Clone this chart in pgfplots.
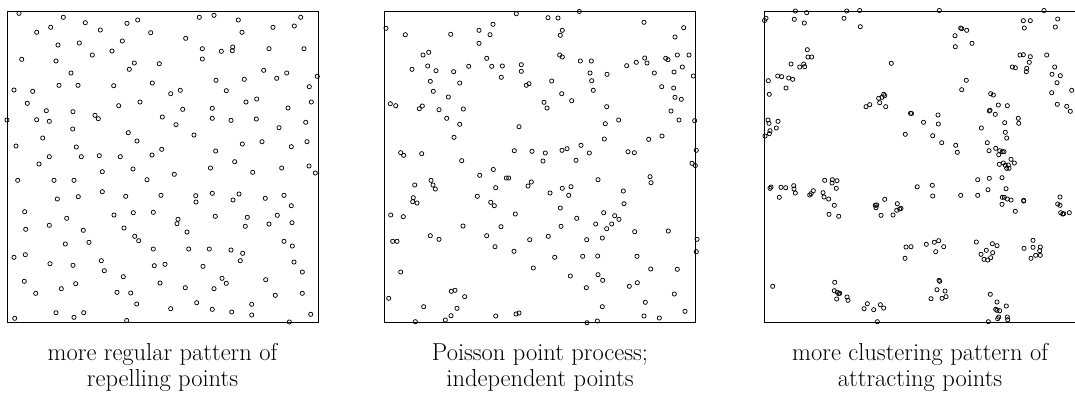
\documentclass[border=0pt]{standalone}
\usepackage{pgfplots}
\pgfplotsset{compat=1.18}
\tikzset{captxt/.style={align=center, font=\fontsize{24.5}{26}\selectfont, anchor=center}}
\pgfplotsset{
  panel/.style={
    anchor=south west, x=1pt, y=1pt, y dir=reverse,
    xtick=\empty, ytick=\empty, clip=false,
    axis line style={line width=0.8pt},
    ymin=11.7, ymax=322,
  },
  pts/.style={only marks, mark=o, mark size=2.1pt, mark options={line width=0.75pt, black}},
}
\begin{document}
\begin{tikzpicture}
\path[use as bounding box] (0pt,0pt) rectangle (1075pt,-402pt);
% Panel 1
\begin{axis}[panel, at={(7pt,-322pt)}, xmin=7, xmax=318]
\addplot[pts] table {
19 13.3
63.3 17.3
85.3 22.7
127 23.3
137.7 20
50.7 27.3
36.7 32.3
100.3 30
150.7 32.7
58 45
79.3 43
122.3 41
112 51
92.3 55
21.7 59.3
56 61
134.3 63
159.3 63.7
129.3 69.3
71 73
59 85.3
78 85.3
113.7 85.7
152.3 83
14 90
32.7 91.3
27.3 103.3
118.7 105.7
140 102
46.3 110.7
73 111.7
95 115.3
98.3 118.7
162.3 117
36.7 119.7
49.3 121.3
72.7 129
42.7 138
128.3 132.7
137 141
16 146
76.3 147
49.3 156.7
81.3 156.7
99.3 155.7
120.3 156.7
152 155
161.7 149.3
39 164
133 169
7 120
199.3 17.3
214 15.3
238.3 20
300.7 17.3
294.3 26
273 27.3
242 32.3
185.7 38.3
202.3 48.7
221.3 51.3
232.7 47
232.3 50.7
269 48.7
304 48.7
202.3 59
263.7 70.3
276.7 78.3
286.7 73
317.3 76.3
216 80.3
244.3 79.3
309.3 86.7
170.7 93.7
180.3 90.3
226.3 90.7
246 102
256.7 99
311.3 102
182.7 109.3
212.3 108.3
288 108
212.3 118.3
231 120.3
256.3 119
176 124.7
279 127.7
305.7 122.3
194 135
242.3 144
262 141.7
291.3 146.7
307 141.7
215.7 151
234.7 161.7
210.5 168
281.7 168
309 166
102.3 171.7
17.7 180.3
54 180.3
74 180.3
147 179.7
102.3 191.7
57.3 199
78.3 196.7
125.7 196.3
161 195.3
24.7 211.7
66.7 218.3
114 215
133.3 212.7
153.3 212.3
25.7 229.3
49.3 225.3
83.3 230.3
124 228
134.7 236.3
138.7 240.7
65.3 244
89 242.3
14 257.3
25.3 254.7
153.3 249
50 263.7
73 265.3
101.3 260.7
104.3 270.7
154.3 265.7
165 264.3
24.3 281.3
35.7 293.3
61.3 288.7
75.7 283.7
123.3 276.7
160 283
117 292.3
130.7 293
136.7 304
56 312.7
74 317.3
83.7 312.7
14.7 318.3
126.7 320.5
174.3 174.3
252.7 172.3
315.3 173
195.7 195.7
196 202
212.3 193.3
239 194
233 200
265.3 198.3
284 195.3
291.3 205.7
178 219.3
177 223.7
215.3 216.3
247.3 217.3
245.3 226.3
269 224
277.3 215.3
292 222.7
187 232
188.7 249
209.3 249
231 250
242.7 253.3
240.3 260.7
284 241.3
292.3 246
294 262
203 266.3
302.3 272
222 278.3
226.3 283.3
265.7 279.7
185.3 287.7
214 288.7
275.3 295.3
302.3 293.3
196.7 302.7
170.7 308.7
212.3 309.3
251.7 304.3
231.7 312
251.7 315
289.3 322
310.7 314.3
};
\node[captxt] at (axis description cs:0.5,-0.147) {more regular pattern of\\repelling points};
\end{axis}
% Panel 2
\begin{axis}[panel, at={(384.7pt,-322pt)}, xmin=384.7, xmax=695.3]
\addplot[pts] table {
516.3 13.7
386 28.3
405.3 34.7
450.7 34.3
479 30.3
493 24.3
490 34.7
479 43.3
423 55
428.7 52.3
486.7 58.3
427.7 66
412 69.3
436 70.7
453.7 71.7
468.7 66.3
491.7 66.3
502.3 66
521.3 64.7
521.3 71.3
501.3 77.3
430.3 81.3
459.7 83
526.3 85.3
529 83.7
433.3 91.3
448.3 97
390.3 103.7
395.7 105.7
419.3 108.7
422.3 106
439 109.7
463.3 109
446.7 118.3
459.7 124.3
519 126.7
454 137.3
400.7 152.7
403.7 155.3
421.7 153.7
514.3 150.7
532 151.3
461.7 160.7
493.3 169.5
579.3 11.5
548 17.7
558 18
562.3 30.3
560.3 35.3
644 22.3
683.7 27.7
675 37
559.7 55
562.3 57
580.3 61
591.3 61
626.7 65.7
636.3 62.3
644.7 58
647 63
665.7 58.3
668 59.7
677.3 55
689 55
682.3 67
590 73
607 74.3
654.3 73
674 72
693.3 76
551.7 81
591.7 80.7
593.3 90.3
561.7 93.7
661.7 86.7
673.7 88
675 97.3
681.3 99.3
544 102.3
547 108
571.7 100.7
606.7 106.7
671 111
618.7 120
605.3 123.7
679 120
694.7 120.7
604.3 139
648.7 139.3
662 136
581 145.3
545.3 153
562 150.3
567 148.7
589.3 153
628 151.7
634.3 152.7
696.3 150.3
543 161
576 160.3
692 163.3
695.3 165.5
479.7 175.3
506.3 178
508.7 178
431 180.3
433 185
435.3 189
414.7 185
495.7 187.7
528 186
531.3 182
413.3 197.7
412.7 201.7
417 203
477.3 196.3
490.7 202.3
494.3 205.7
390.7 215
403.3 216.7
515.3 214
463 226
501 226.7
430.3 235.7
439 239.3
486.7 235.7
392.7 241.3
397 241.3
529.7 239.7
495 246.7
514 251.3
533.3 268
400.7 272
451.3 291.3
455 290.3
464.7 296.7
388.7 298.3
423.7 306.7
457 308.3
451 315.7
445.3 320
415.3 321.7
495.7 316
516 314
519 313
598 179.7
650 176.7
651 182.7
550 193
562.3 188.3
571 186.7
568.7 195.3
623.3 191
624 203.7
560.3 208
576.7 218.3
603.7 212.7
614.7 215.7
619 219.3
595.7 224
611.7 224
606.7 228.7
561 226.3
634.7 231.7
668.3 231
548.3 236.3
586.7 239.7
602.3 238
697 239.3
696.3 251.7
554.7 257.3
582.7 256.3
597.7 256
637 256.3
650.7 269
677.3 269.3
570.3 276
598 274.7
602.7 280.3
586.3 287.7
629.3 286.3
637.3 282.7
674.3 294
645.3 302.3
602.3 306.7
685 311.3
644 316
659.3 318
587 322.7
597.3 321
};
\node[captxt] at (axis description cs:0.5,-0.147) {Poisson point process;\\independent points};
\end{axis}
% Panel 3
\begin{axis}[panel, at={(764.7pt,-322pt)}, xmin=764.7, xmax=1075.5]
\addplot[pts] table {
795.3 11
806.7 12.7
846.7 11
859.7 10.5
766 18.3
764.5 20.5
794.3 19.3
804.3 23
844 18.3
860.3 26.7
807.3 49.7
808 57
811.7 57
791 64
803.7 64
799.7 67
804.7 66.7
891.3 63.3
777.7 76
781.7 76.7
788.7 78
792.7 79.3
768.3 80.7
786 88
769.3 94.3
883.7 94.3
884.7 95.7
882 97.3
878.7 98.3
879.7 102.7
885.7 106.7
866 106.7
869.7 104.7
910.5 113.3
911.5 113.5
923.5 122.3
768 120
769 123.3
778 121.3
776.3 128
770 130.7
769.3 133.7
905.3 134.3
765 136
939.3 10.5
1044 10.5
1023.3 20.7
1030.3 20.7
1057.7 19
1024.3 28
1055.3 27
960.7 28
961.7 28.7
966.7 30.3
955 35.7
955.3 46.7
972 43.3
1020 55
1023.3 54.7
1030.3 56.7
1046.7 55
1029.3 62.3
1012.3 67
1015.3 67.7
1026.7 68.3
1026.3 71.7
1054.7 67
1052 74.3
1060.3 75.7
1057 82.7
1071.7 90.3
1051.7 92.7
966.3 80.3
961.7 89.7
990.7 93.7
993.3 95
998.3 105
1007.3 105.7
1057.3 104.3
1066.7 106.3
1070.3 111.3
989.3 111
990 110.3
995.3 114.3
938 115
1018.3 118.3
1018.7 123.3
938.3 124
1004.7 122.7
981.3 128
932.7 135.7
1005.3 132.3
1006.7 138
941.7 142.7
955.7 145.3
957.3 152.3
987.3 142.7
989 150.7
995.7 148.3
999.7 150.7
1002.3 151.7
1004 151.7
998.7 154.7
999.3 164.3
1003.3 163
1005.3 165.3
1008.3 165
1011 159.3
1014.3 163
1006.7 168.3
1009 168.3
770 188.3
771 187
781 187.3
785.7 187.7
779.3 197.3
793.7 185.7
794 189
795.3 193
809.7 195
811 193.7
813.3 190.7
824.7 180.3
832.3 179.7
832 183
837 180.7
836.3 188.3
823 192.7
824 197
828.7 199
834.3 205.3
829 214.3
838.7 216.3
917.2 186.8
884.7 199.3
875.3 205.3
876 207.7
876.7 205
881 215.3
893 215
897.3 203.7
896.7 210.3
899.7 209
901 208.3
906 247
911 246.7
905 258.3
772.7 286.3
834.7 282.3
834.3 290.7
837.3 292.3
838.7 293.7
839.7 293.3
836.7 299
847 297
848 300.3
867.3 303.7
864 308.7
873.7 309.7
880.3 304.7
883.7 308
877.3 321.7
932.3 185.3
932.7 196
960.7 195.3
977.7 179.7
989.3 178.3
1002 177.7
988 189.7
977.7 195.3
1006 188.7
1002.3 197.3
1004.3 197.3
1007.3 199
1011 200
1002 204.3
1023.7 200.3
1023.7 201
1015.3 211.3
1060 197
1057.7 204
1060 205.3
1060.7 212.7
1062.7 214
1063.7 213.7
1069.3 212.7
926.3 244.3
934.3 242.3
938.7 240.7
935.7 251.7
943.7 246.7
976.3 242
992.3 243.7
997 245.7
986.3 250.3
981 254.3
992.7 252.7
984 259.3
987.7 260
990.7 257.7
1033 240.3
1024 248.3
1033 247.3
1040.3 247
1039.7 250.7
1035.7 255.3
1040.3 255.3
1031 258.3
939 280.3
939.7 281.3
937 289.7
945 291
946 296.7
942 298.3
931 298.7
990.3 294.3
997 302
1006.3 306
995.7 309.3
997 310.3
999.7 310.7
998.7 317
997.7 318.7
1007.3 317
1007.7 319.7
988.3 321.7
};
\node[captxt] at (axis description cs:0.5,-0.147) {more clustering pattern of\\attracting points};
\end{axis}
\end{tikzpicture}
\end{document}
